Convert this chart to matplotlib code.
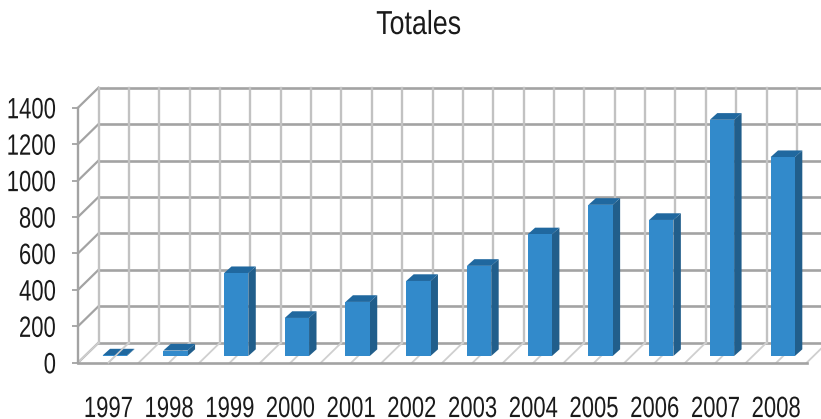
import numpy as np
import matplotlib
matplotlib.use('Agg')
import matplotlib.pyplot as plt
import matplotlib.patheffects as pe
from matplotlib.transforms import Affine2D

plt.rcParams['font.family'] = ['Liberation Sans', 'DejaVu Sans']

years = ['1997', '1998', '1999', '2000', '2001', '2002', '2003', '2004', '2005', '2006', '2007', '2008']
totals = [3, 30, 455, 209, 297, 412, 495, 668, 830, 747, 1297, 1092]
y_ticks = [0, 200, 400, 600, 800, 1000, 1200, 1400]


# the reference text is squeezed sideways, so stretch the glyphs upward
class TallText(pe.AbstractPathEffect):
    def __init__(self, sy, shift=0):
        super().__init__()
        self.sy = sy
        self.shift = shift

    def draw_path(self, renderer, gc, tpath, affine, rgbFace=None):
        t = Affine2D().scale(1, self.sy) + affine + Affine2D().translate(0, self.shift)
        renderer.draw_path(gc, tpath, t, rgbFace)


W, H = 821, 419
fig = plt.figure(figsize=(W / 100, H / 100), dpi=100)
ax = fig.add_axes([78 / W, (H - 362.7) / H, 728.7 / W, 255 / H])
ax.set_xlim(0, len(years))
ax.set_ylim(0, 1400)

# depth of the fake 3d box, in data units
depth_x = 0.338
depth_y = 110
bar_w = 0.4

grid_v = '#c2c2c2'
grid_h = '#a3a3a3'
floor = '#cfcfcf'

# back wall and left wall
for v in y_ticks:
    ax.plot([depth_x, len(years) + depth_x], [v + depth_y, v + depth_y], color=grid_h, lw=1.9, clip_on=False, zorder=1)
    ax.plot([0, depth_x], [v, v + depth_y], color=grid_h, lw=1.6, clip_on=False, zorder=1)

# verticals on the wall and diagonals on the floor, two per category
for x in np.arange(0, len(years) + 0.5, 0.5):
    ax.plot([x + depth_x, x + depth_x], [depth_y, 1400 + depth_y], color=grid_v, lw=1.7, clip_on=False, zorder=1)
    ax.plot([x, x + depth_x], [0, depth_y], color=floor, lw=1.3, clip_on=False, zorder=1)
ax.plot([0, 0], [0, 1400], color=grid_h, lw=1.7, clip_on=False, zorder=1)
ax.plot([0, len(years)], [0, 0], color=grid_h, lw=1.9, clip_on=False, zorder=1)

# bars: side, top, then front face
for i, v in enumerate(totals):
    x0 = i + 0.5 + 0.105 - bar_w / 2
    x1 = x0 + bar_w
    b0 = depth_y / 3
    dx = depth_x / 3 + 0.01
    dy = depth_y / 3
    ax.fill([x1, x1 + dx, x1 + dx, x1], [b0, b0 + dy, b0 + v + dy, b0 + v], color='#215e8b', lw=0, clip_on=False, zorder=3)
    ax.fill([x0, x1, x1 + dx, x0 + dx], [b0 + v, b0 + v, b0 + v + dy, b0 + v + dy], color='#20689f', lw=0, clip_on=False, zorder=3)
    ax.fill([x0, x1, x1, x0], [b0, b0, b0 + v, b0 + v], color='#328acb', lw=0, clip_on=False, zorder=3)

# the 1997 bar is so flat that the floor line shows through it
ax.plot([0.5, 0.5 + depth_x], [0, depth_y], color=floor, lw=1.1, clip_on=False, zorder=4)

for s in ax.spines.values():
    s.set_visible(False)
ax.patch.set_visible(False)

ax.set_xticks(np.arange(len(years)) + 0.5)
ax.set_xticklabels(years)
ax.set_yticks(y_ticks)
ax.tick_params(axis='x', length=0, pad=23, labelsize=15.9, labelcolor='#1a1a1a')
ax.tick_params(axis='y', length=4.3, width=1.3, color=grid_h, pad=11.5, labelsize=15.9, labelcolor='#1a1a1a')
for lab in ax.get_xticklabels():
    lab.set_path_effects([TallText(1.33, shift=-6.4)])
for lab in ax.get_yticklabels():
    lab.set_path_effects([TallText(1.33, shift=-2.6)])

title = fig.text(418.5 / W, 1 - 34 / H, 'Totales', ha='center', va='baseline', fontsize=19.3, color='#1a1a1a')
title.set_path_effects([TallText(1.24)])

fig.savefig('out.png', dpi=100)
